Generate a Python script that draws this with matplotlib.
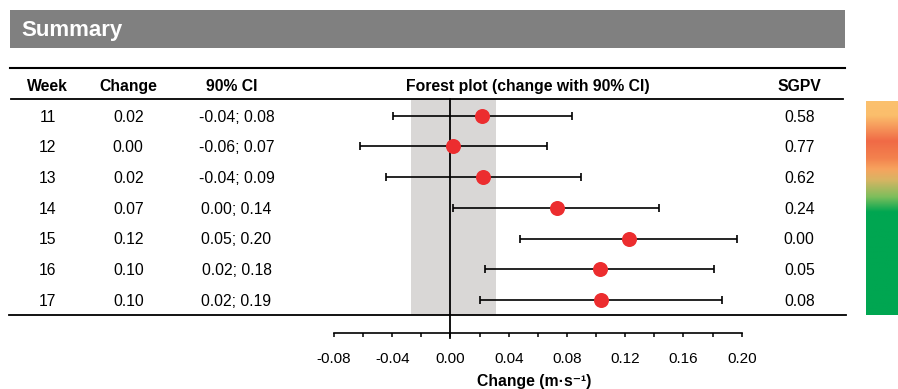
import numpy as np
import matplotlib
matplotlib.use('Agg')
from matplotlib import pyplot as plt
from matplotlib import transforms
from matplotlib.lines import Line2D
from matplotlib.patches import Rectangle
from matplotlib.colors import LinearSegmentedColormap

plt.rcParams['font.family'] = ['Liberation Sans', 'DejaVu Sans']

################################################################################
#  Dados
################################################################################
weeks = [11, 12, 13, 14, 15, 16, 17]
change = [0.0218, 0.0015, 0.0225, 0.0730, 0.1226, 0.1027, 0.1032]
ci_low = [-0.0395, -0.0622, -0.0440, 0.0015, 0.0477, 0.0239, 0.0203]
ci_high = [0.0832, 0.0661, 0.0896, 0.1432, 0.1970, 0.1812, 0.1863]
sgpv = [0.58, 0.77, 0.62, 0.24, 0.00, 0.05, 0.08]
trivial = (-0.027, 0.031)          # zona cinza
headers = ['Week', 'Change', '90% CI', 'Forest plot (change with 90% CI)', 'SGPV']
xticks = [-0.08, -0.04, 0.00, 0.04, 0.08, 0.12, 0.16, 0.20]

################################################################################
#  Layout (pixels -> fracao da figura)
################################################################################
W, H = 898, 389
def fx(x):
    return x / W
def fy(y):
    return 1 - y / H

row0, step = 115.5, 30.75           # centro da primeira linha e passo (px)
ax_top, ax_bot = 99, 332.7          # limites verticais do eixo (px)
ax_l, ax_r = 334, 741.7

fig = plt.figure(figsize=(W / 100, H / 100), dpi=100)

# faixa de titulo
fig.add_artist(Rectangle((fx(10), fy(48.3)), fx(835), 38.3 / H,
                         transform=fig.transFigure, color='#808080', lw=0))
fig.text(fx(21.7), fy(30.5), 'Summary', color='white', fontsize=16,
         fontweight='bold', va='center', ha='left')

# linhas da tabela
for y, x0, x1, lw in [(68.3, 10, 845, 1.5), (99, 11, 843, 1.3), (315, 9.3, 845.7, 1.3)]:
    fig.add_artist(Line2D([fx(x0), fx(x1)], [fy(y), fy(y)],
                          transform=fig.transFigure, color='black', lw=lw))

################################################################################
#  Forest plot
################################################################################
ax = fig.add_axes([fx(ax_l), fy(ax_bot), (ax_r - ax_l) / W, (ax_bot - ax_top) / H])
ax.set_xlim(-0.08, 0.20)
ax.set_ylim((ax_bot - row0) / step, (ax_top - row0) / step)
rows = np.arange(len(weeks))

band_ymin = (ax_bot - 315) / (ax_bot - ax_top)
ax.axvspan(trivial[0], trivial[1], ymin=band_ymin, ymax=1, color='#D9D7D6', lw=0, zorder=0)
ax.axvline(0, ymin=-0.023, ymax=1, color='black', lw=1.3, clip_on=False, zorder=1)

xerr = [np.array(change) - np.array(ci_low), np.array(ci_high) - np.array(change)]
ax.errorbar(change, rows, xerr=xerr, fmt='none', ecolor='black', elinewidth=1.2,
            capsize=2.6, capthick=1.2, zorder=2)
ax.plot(change, rows, 'o', color='#EC2D2F', markersize=10.8, markeredgewidth=0, zorder=3)

for s in ['top', 'left', 'right']:
    ax.spines[s].set_visible(False)
ax.spines['bottom'].set_bounds(-0.08, 0.20)
ax.spines['bottom'].set_linewidth(1.2)
ax.set_yticks([])
ax.set_xticks(xticks)
ax.set_xticks(np.arange(-0.06, 0.20, 0.04), minor=True)
ax.set_xticklabels(['{:.2f}'.format(t) for t in xticks])
ax.tick_params(axis='x', which='both', direction='out', length=2.6, width=1.1,
               labelsize=11, pad=11)
ax.patch.set_alpha(0)

fig.text(fx(534), fy(381.5), 'Change (m·s⁻¹)', fontsize=11.3, fontweight='bold',
         ha='center', va='center')

################################################################################
#  Tabela
################################################################################
trans = transforms.blended_transform_factory(fig.transFigure, ax.transData)
trans = transforms.offset_copy(trans, fig=fig, y=-1.5, units='dots')
head_x = [47, 128, 232, 528, 799.5]
for h, x in zip(headers, head_x):
    fig.text(fx(x), fy(86.5), h, fontsize=11.3, fontweight='bold', ha='center', va='center')

for i in rows:
    cells = [str(weeks[i]), '{:.2f}'.format(change[i]),
             '{:.2f}; {:.2f}'.format(ci_low[i], ci_high[i]), '{:.2f}'.format(sgpv[i])]
    for c, x in zip(cells, [47.5, 128.3, 236.5, 799.3]):
        ax.text(fx(x), i, c, transform=trans, fontsize=11.3, ha='center', va='center',
                clip_on=False)

################################################################################
#  Barra de cor (SGPV)
################################################################################
stops = [(0.0, '#FBC16E'), (0.07, '#FBBE6C'), (0.19, '#F06A46'), (0.27, '#F3824E'),
         (0.32, '#F7A35E'), (0.37, '#D9B463'), (0.45, '#7DBE5C'), (0.52, '#00A651'),
         (1.0, '#00A651')]
cmap = LinearSegmentedColormap.from_list('sgpv', stops)
cax = fig.add_axes([fx(866), fy(315), 32 / W, (315 - 100.7) / H])
cax.imshow(np.linspace(0, 1, 256).reshape(-1, 1), cmap=cmap, aspect='auto')
cax.axis('off')

fig.savefig('out.png', dpi=100)
